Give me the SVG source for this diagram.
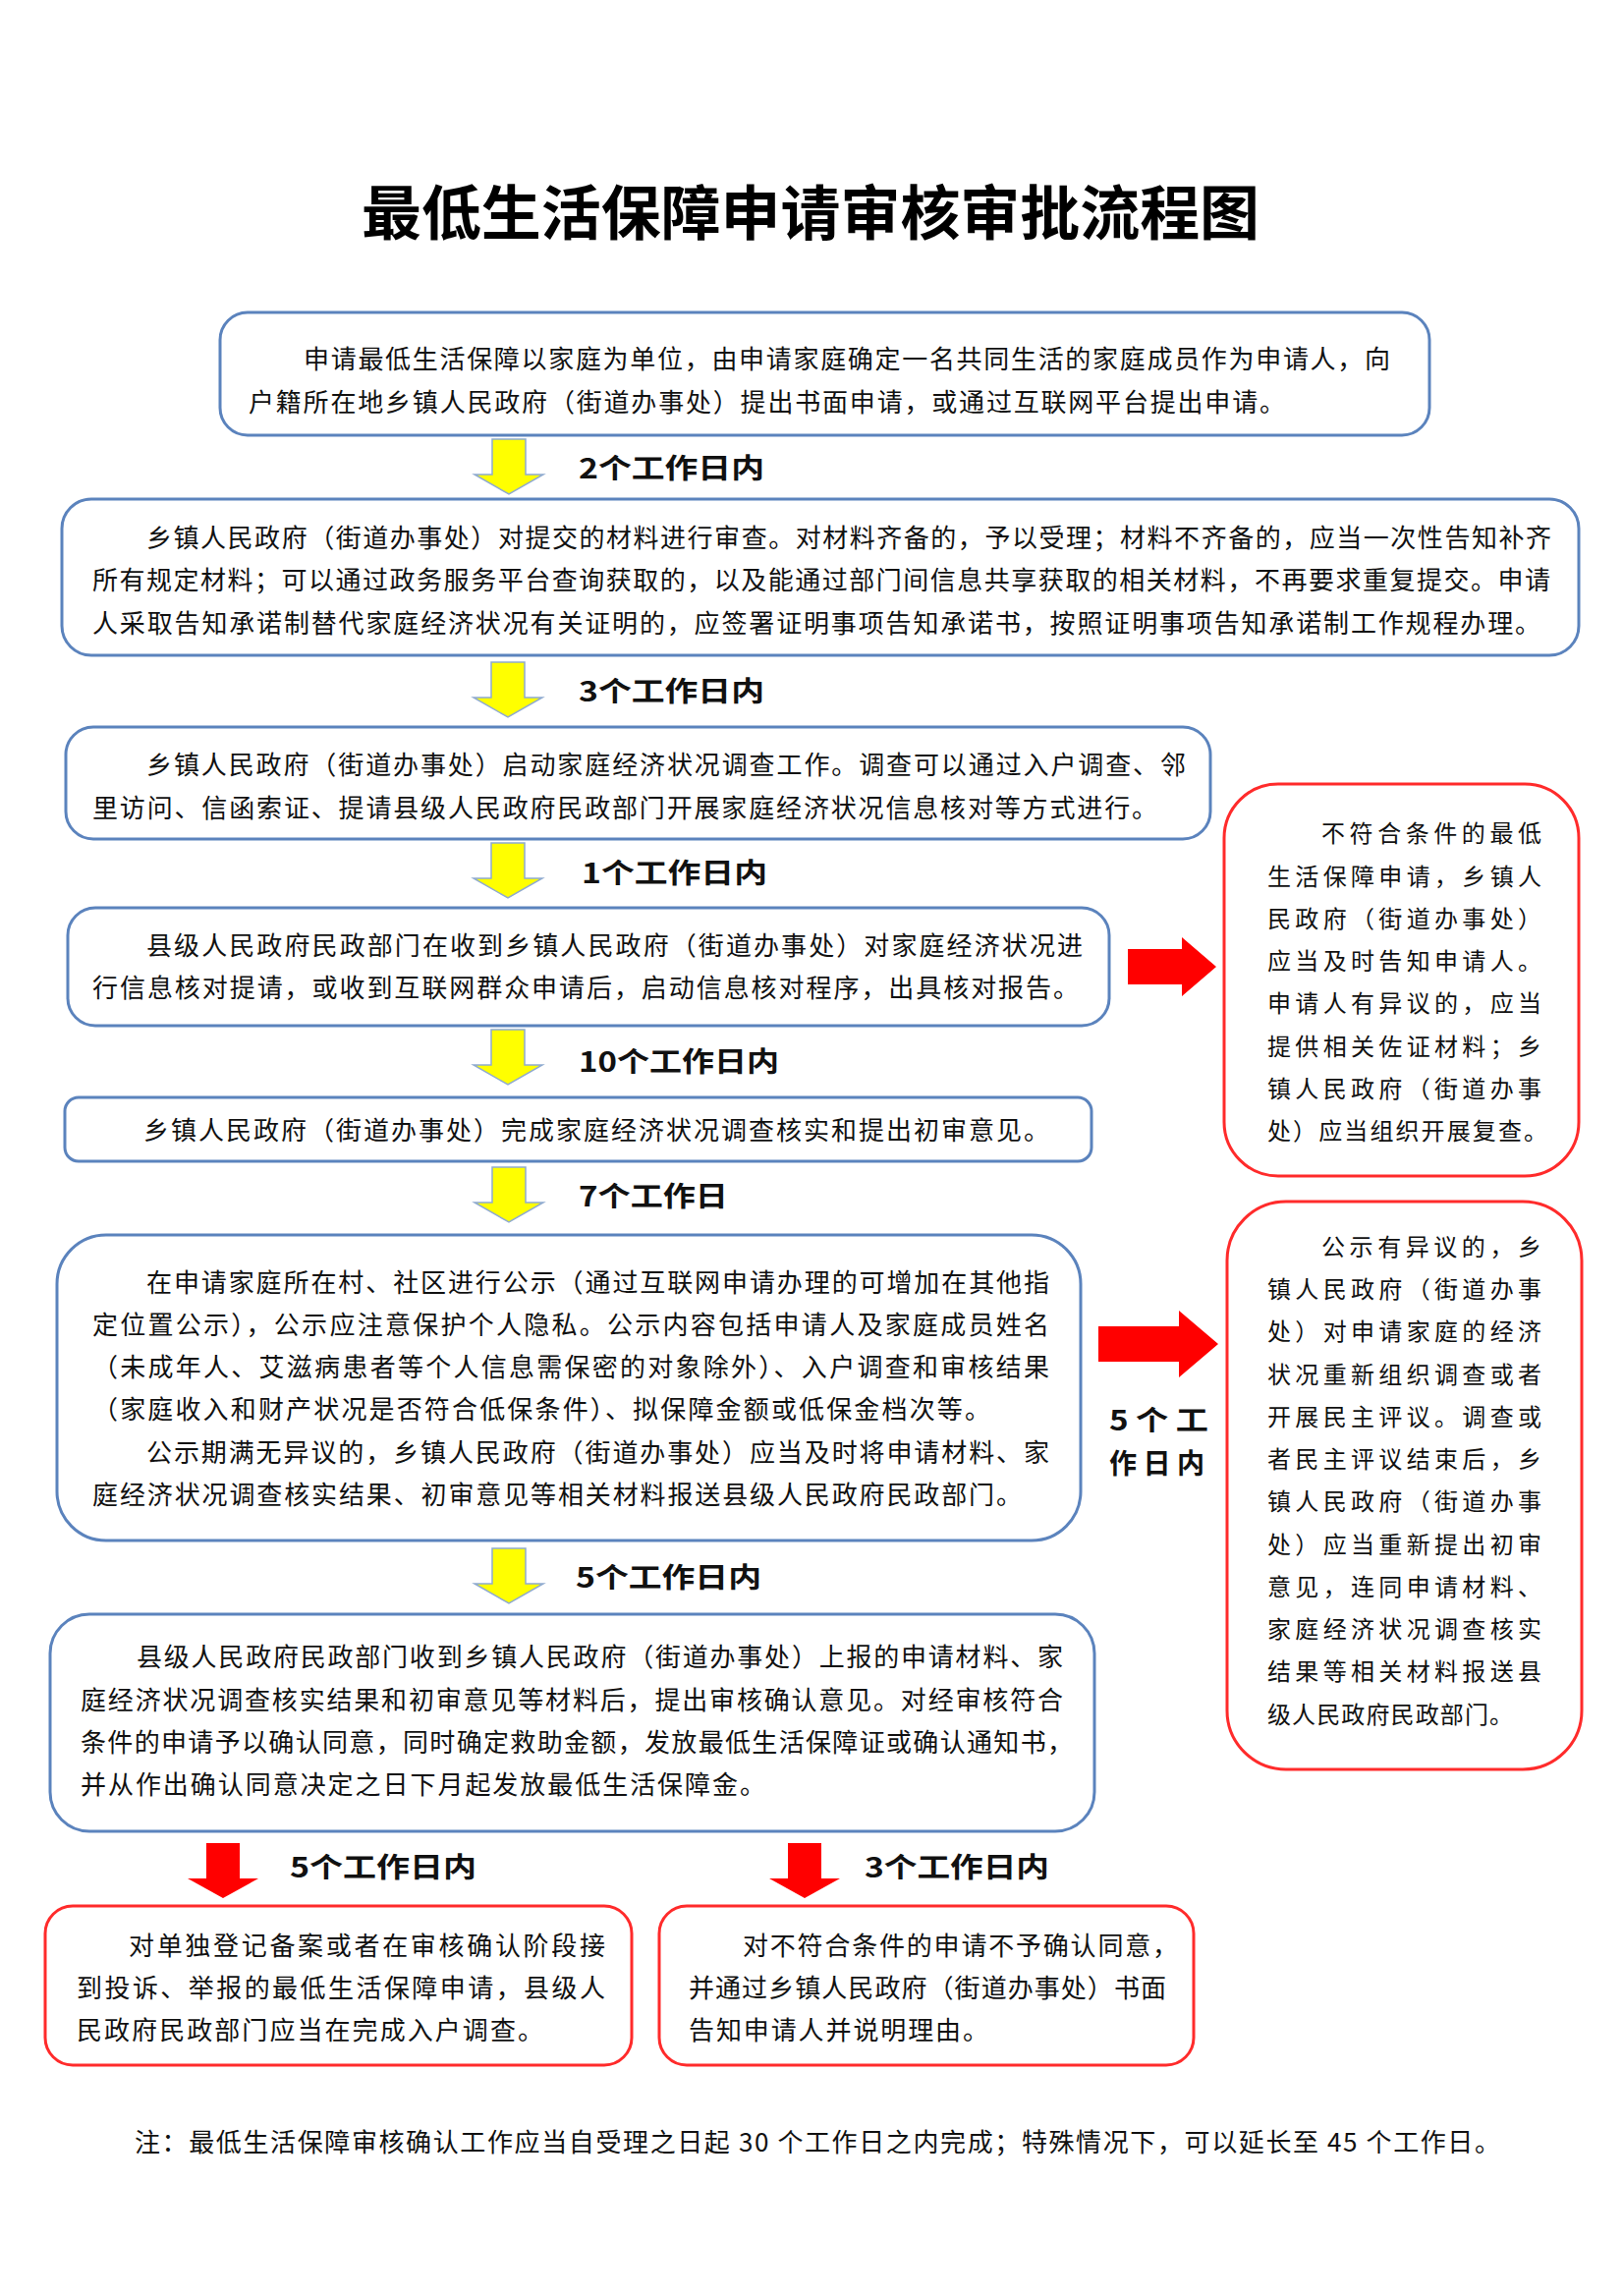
<svg xmlns="http://www.w3.org/2000/svg" width="1652" height="2337" viewBox="0 0 1652 2337">
<style>
text{font-family:"Noto Sans CJK SC","Noto Sans CJK JP",sans-serif;fill:#111;}
.t{font-size:26px;}
.s{font-size:24px;}
.lbl{font-size:28px;font-weight:bold;}
.title{font-size:60px;font-weight:bold;fill:#000;}
.bx{fill:#fff;stroke:#5B83BD;stroke-width:3;}
.rbx{fill:#fff;stroke:#FF2B2B;stroke-width:3;}
.ya{fill:#FFFF00;stroke:#8FAAD0;stroke-width:1.5;}
.ra{fill:#FF0000;}
</style>
<rect width="1652" height="2337" fill="#fff"/>
<text class="title" x="368" y="239" textLength="914" lengthAdjust="spacingAndGlyphs">最低生活保障申请审核审批流程图</text>

<g id="connectors">
<path class="ya" d="M501,447 H535 V483 H553 L518,503 L483,483 H501 Z"/>
<path class="ya" d="M500,674 H534 V710 H552 L517,730 L482,710 H500 Z"/>
<path class="ya" d="M500,858 H534 V894 H552 L517,914 L482,894 H500 Z"/>
<path class="ya" d="M500,1048 H534 V1084 H552 L517,1104 L482,1084 H500 Z"/>
<path class="ya" d="M501,1188 H535 V1224 H553 L518,1244 L483,1224 H501 Z"/>
<path class="ya" d="M501,1576 H535 V1612 H553 L518,1632 L483,1612 H501 Z"/>
<path class="ra" d="M1148,966 H1203 V954 L1238,984 L1203,1014 V1002 H1148 Z"/>
<path class="ra" d="M1118,1350 H1200 V1334 L1240,1368 L1200,1402 V1386 H1118 Z"/>
<path class="ra" d="M210,1876 H244 V1912 H263 L227,1932 L191,1912 H210 Z"/>
<path class="ra" d="M802,1876 H836 V1912 H855 L819,1932 L783,1912 H802 Z"/>
<text class="lbl" x="589" y="487" textLength="189" lengthAdjust="spacingAndGlyphs">2个工作日内</text>
<text class="lbl" x="589" y="714" textLength="189" lengthAdjust="spacingAndGlyphs">3个工作日内</text>
<text class="lbl" x="592" y="899" textLength="189" lengthAdjust="spacingAndGlyphs">1个工作日内</text>
<text class="lbl" x="589" y="1091" textLength="204" lengthAdjust="spacingAndGlyphs">10个工作日内</text>
<text class="lbl" x="589" y="1228" textLength="152" lengthAdjust="spacingAndGlyphs">7个工作日</text>
<text class="lbl" x="586" y="1616" textLength="189" lengthAdjust="spacingAndGlyphs">5个工作日内</text>
<text class="lbl" x="295" y="1911" textLength="190" lengthAdjust="spacingAndGlyphs">5个工作日内</text>
<text class="lbl" x="880" y="1911" textLength="188" lengthAdjust="spacingAndGlyphs">3个工作日内</text>
<text class="lbl" x="1129" y="1456" textLength="101" lengthAdjust="spacingAndGlyphs">5 个 工</text>
<text class="lbl" x="1129" y="1500" textLength="97" lengthAdjust="spacingAndGlyphs">作 日 内</text>
</g>

<g id="n1">
<rect class="bx" x="224" y="318" width="1231" height="125" rx="28"/>
<text class="t" x="309" y="375" textLength="1106">申请最低生活保障以家庭为单位，由申请家庭确定一名共同生活的家庭成员作为申请人，向</text>
<text class="t" x="253" y="419" textLength="1055">户籍所在地乡镇人民政府（街道办事处）提出书面申请，或通过互联网平台提出申请。</text>
</g>

<g id="n2">
<rect class="bx" x="63" y="508" width="1544" height="159" rx="30"/>
<text class="t" x="149" y="557" textLength="1430">乡镇人民政府（街道办事处）对提交的材料进行审查。对材料齐备的，予以受理；材料不齐备的，应当一次性告知补齐</text>
<text class="t" x="94" y="600" textLength="1484">所有规定材料；可以通过政务服务平台查询获取的，以及能通过部门间信息共享获取的相关材料，不再要求重复提交。申请</text>
<text class="t" x="94" y="644" textLength="1474">人采取告知承诺制替代家庭经济状况有关证明的，应签署证明事项告知承诺书，按照证明事项告知承诺制工作规程办理。</text>
</g>

<g id="n3">
<rect class="bx" x="67" y="740" width="1165" height="114" rx="28"/>
<text class="t" x="149" y="788" textLength="1058">乡镇人民政府（街道办事处）启动家庭经济状况调查工作。调查可以通过入户调查、邻</text>
<text class="t" x="94" y="832" textLength="1084">里访问、信函索证、提请县级人民政府民政部门开展家庭经济状况信息核对等方式进行。</text>
</g>

<g id="n4">
<rect class="bx" x="69" y="924" width="1060" height="120" rx="28"/>
<text class="t" x="149" y="972" textLength="953">县级人民政府民政部门在收到乡镇人民政府（街道办事处）对家庭经济状况进</text>
<text class="t" x="94" y="1015" textLength="1004">行信息核对提请，或收到互联网群众申请后，启动信息核对程序，出具核对报告。</text>
</g>

<g id="n5">
<rect class="bx" x="66" y="1117" width="1045" height="65" rx="14"/>
<text class="t" x="146" y="1160" textLength="922">乡镇人民政府（街道办事处）完成家庭经济状况调查核实和提出初审意见。</text>
</g>

<g id="n6">
<rect class="bx" x="58" y="1257" width="1042" height="311" rx="50"/>
<text class="t" x="149" y="1315" textLength="919">在申请家庭所在村、社区进行公示（通过互联网申请办理的可增加在其他指</text>
<text class="t" x="94" y="1358" textLength="974">定位置公示），公示应注意保护个人隐私。公示内容包括申请人及家庭成员姓名</text>
<text class="t" x="94" y="1401" textLength="974">（未成年人、艾滋病患者等个人信息需保密的对象除外）、入户调查和审核结果</text>
<text class="t" x="94" y="1444" textLength="914">（家庭收入和财产状况是否符合低保条件）、拟保障金额或低保金档次等。</text>
<text class="t" x="149" y="1488" textLength="919">公示期满无异议的，乡镇人民政府（街道办事处）应当及时将申请材料、家</text>
<text class="t" x="94" y="1531" textLength="946">庭经济状况调查核实结果、初审意见等相关材料报送县级人民政府民政部门。</text>
</g>

<g id="n7">
<rect class="bx" x="51" y="1643" width="1063" height="221" rx="40"/>
<text class="t" x="139" y="1696" textLength="943">县级人民政府民政部门收到乡镇人民政府（街道办事处）上报的申请材料、家</text>
<text class="t" x="82" y="1740" textLength="1000">庭经济状况调查核实结果和初审意见等材料后，提出审核确认意见。对经审核符合</text>
<text class="t" x="82" y="1783" textLength="1010">条件的申请予以确认同意，同时确定救助金额，发放最低生活保障证或确认通知书，</text>
<text class="t" x="82" y="1826" textLength="697">并从作出确认同意决定之日下月起发放最低生活保障金。</text>
</g>

<g id="n8">
<rect class="rbx" x="1246" y="798" width="361" height="399" rx="55"/>
<text class="s" x="1345" y="857" textLength="224">不符合条件的最低</text>
<text class="s" x="1290" y="901" textLength="279">生活保障申请，乡镇人</text>
<text class="s" x="1290" y="944" textLength="279">民政府（街道办事处）</text>
<text class="s" x="1290" y="987" textLength="279">应当及时告知申请人。</text>
<text class="s" x="1290" y="1030" textLength="279">申请人有异议的，应当</text>
<text class="s" x="1290" y="1074" textLength="279">提供相关佐证材料；乡</text>
<text class="s" x="1290" y="1117" textLength="279">镇人民政府（街道办事</text>
<text class="s" x="1290" y="1160" textLength="285">处）应当组织开展复查。</text>
</g>

<g id="n9">
<rect class="rbx" x="1249" y="1223" width="361" height="578" rx="60"/>
<text class="s" x="1345" y="1278" textLength="224">公示有异议的，乡</text>
<text class="s" x="1290" y="1321" textLength="279">镇人民政府（街道办事</text>
<text class="s" x="1290" y="1364" textLength="279">处）对申请家庭的经济</text>
<text class="s" x="1290" y="1408" textLength="279">状况重新组织调查或者</text>
<text class="s" x="1290" y="1451" textLength="279">开展民主评议。调查或</text>
<text class="s" x="1290" y="1494" textLength="279">者民主评议结束后，乡</text>
<text class="s" x="1290" y="1537" textLength="279">镇人民政府（街道办事</text>
<text class="s" x="1290" y="1581" textLength="279">处）应当重新提出初审</text>
<text class="s" x="1290" y="1624" textLength="279">意见，连同申请材料、</text>
<text class="s" x="1290" y="1667" textLength="279">家庭经济状况调查核实</text>
<text class="s" x="1290" y="1710" textLength="279">结果等相关材料报送县</text>
<text class="s" x="1290" y="1754" textLength="250">级人民政府民政部门。</text>
</g>

<g id="n10">
<rect class="rbx" x="46" y="1940" width="597" height="162" rx="28"/>
<text class="t" x="131" y="1990" textLength="485">对单独登记备案或者在审核确认阶段接</text>
<text class="t" x="78" y="2033" textLength="538">到投诉、举报的最低生活保障申请，县级人</text>
<text class="t" x="78" y="2076" textLength="475">民政府民政部门应当在完成入户调查。</text>
</g>

<g id="n11">
<rect class="rbx" x="671" y="1940" width="544" height="162" rx="28"/>
<text class="t" x="756" y="1990" textLength="443">对不符合条件的申请不予确认同意，</text>
<text class="t" x="701" y="2033" textLength="486">并通过乡镇人民政府（街道办事处）书面</text>
<text class="t" x="701" y="2076" textLength="305">告知申请人并说明理由。</text>
</g>

<g id="note">
<text class="t" x="137" y="2190" textLength="1390">注：最低生活保障审核确认工作应当自受理之日起 30 个工作日之内完成；特殊情况下，可以延长至 45 个工作日。</text>
</g>
</svg>
